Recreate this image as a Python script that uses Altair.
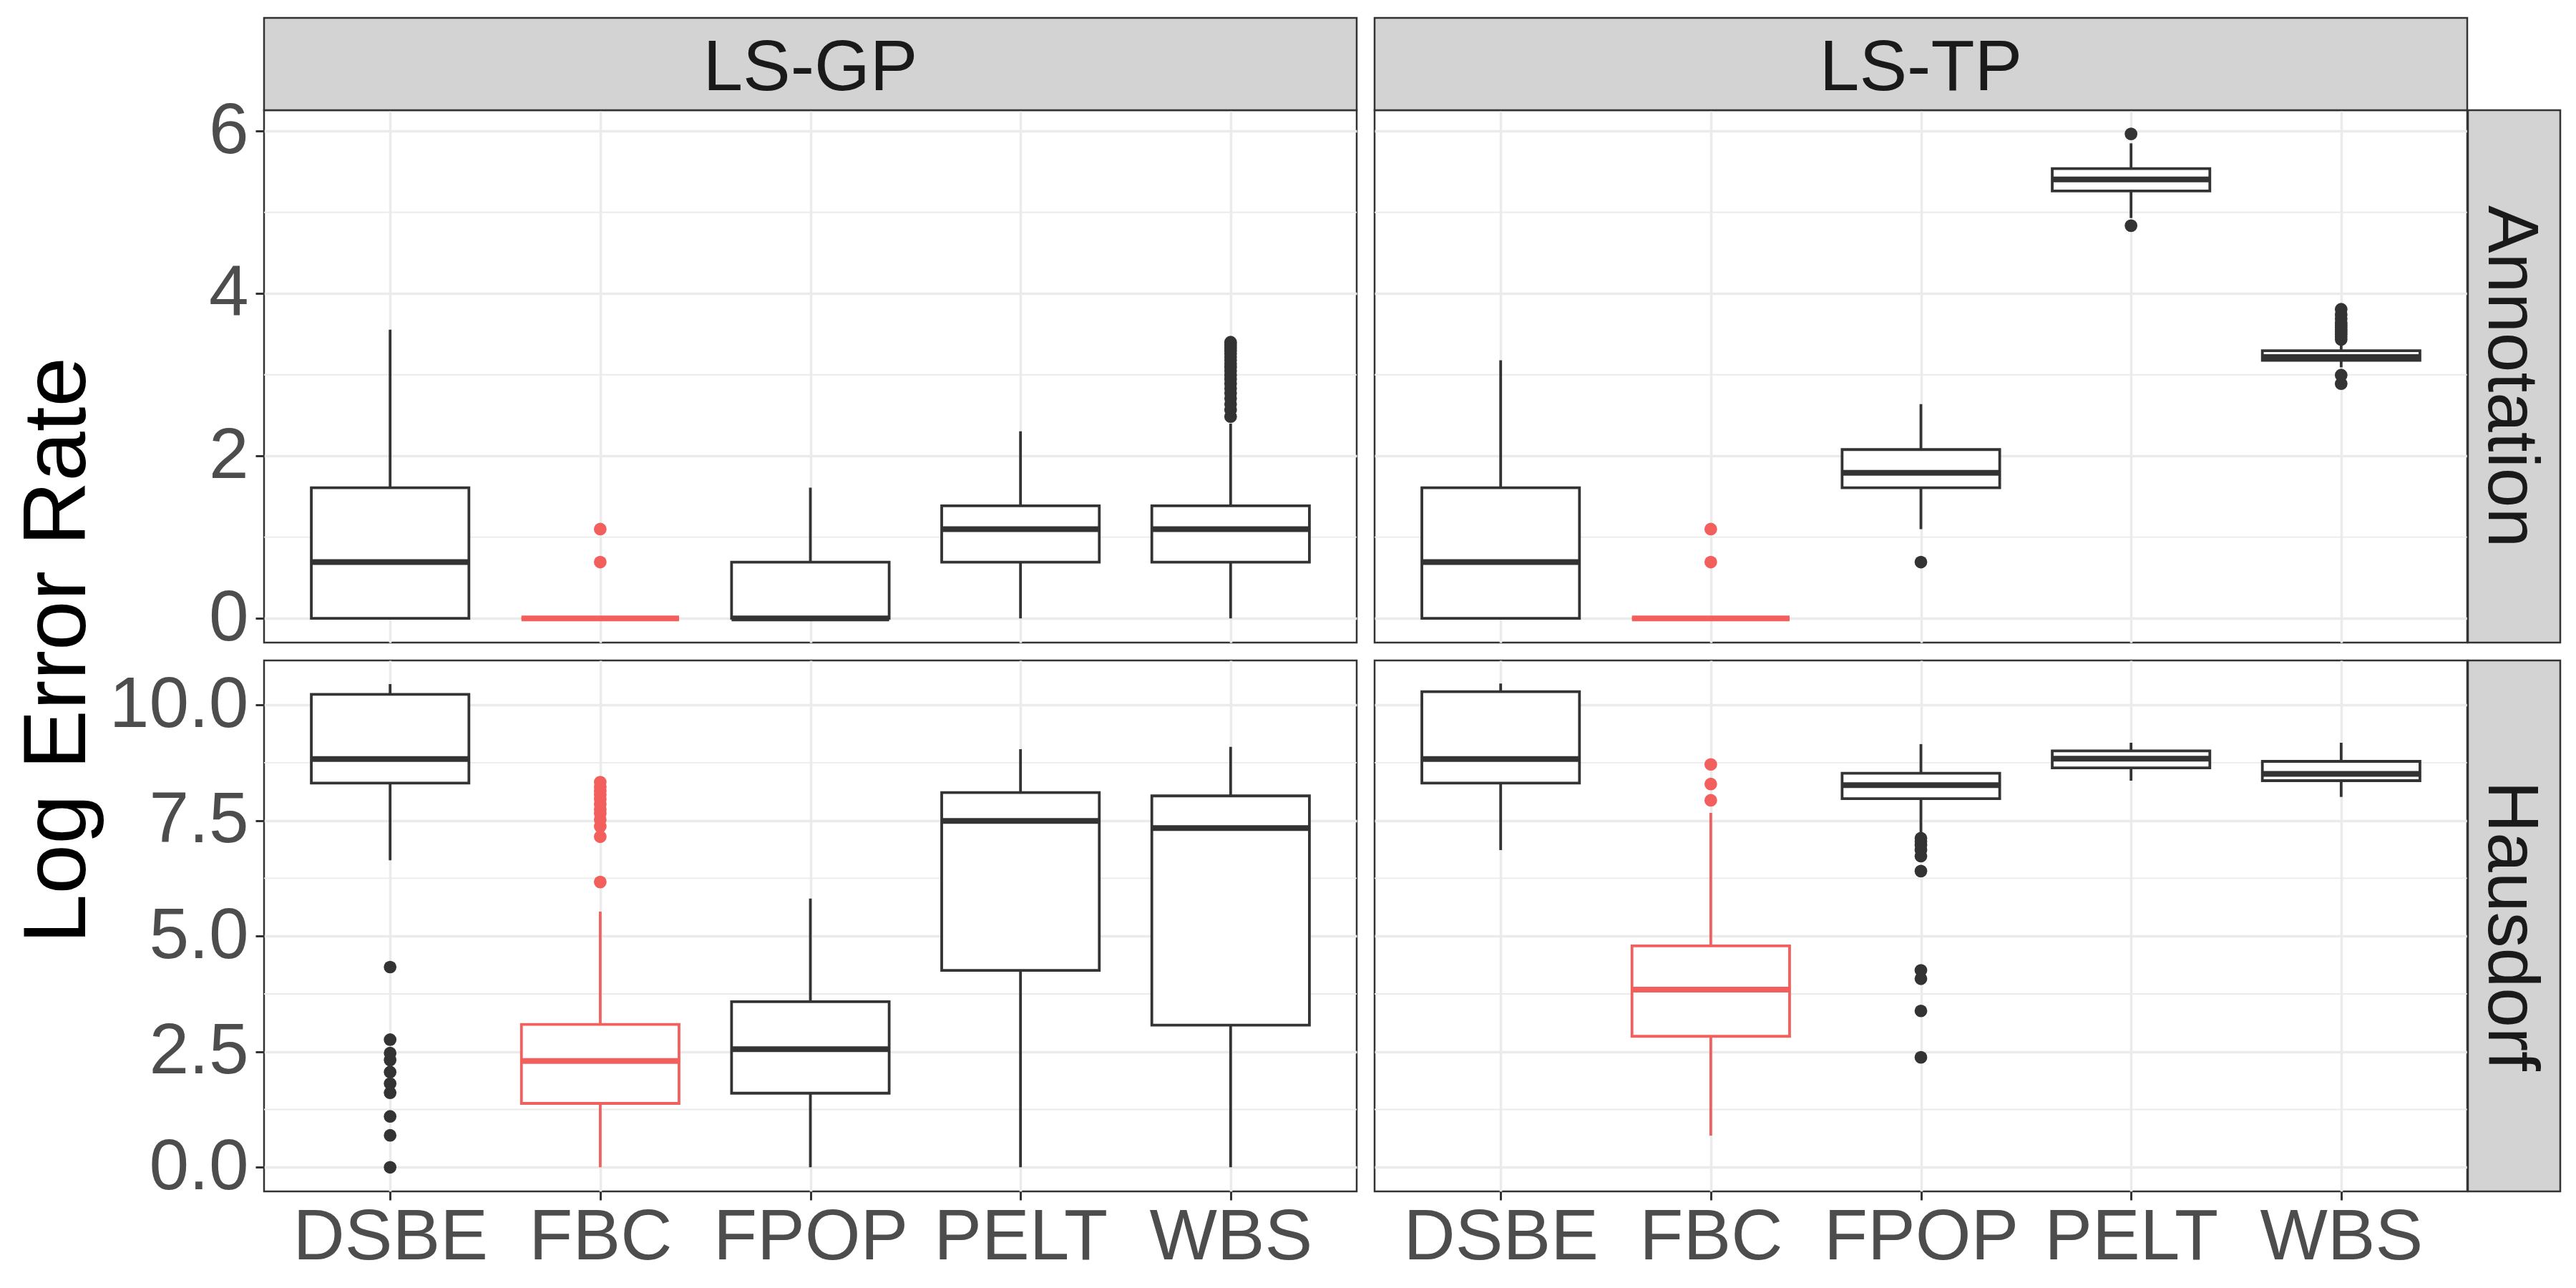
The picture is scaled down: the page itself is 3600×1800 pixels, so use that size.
import altair as alt
import pandas as pd

METHODS = ["DSBE", "FBC", "FPOP", "PELT", "WBS"]
COLORS = ["#333333", "#F25F5C", "#333333", "#333333", "#333333"]
DATASETS = ["LS-GP", "LS-TP"]
MEASURES = ["Annotation", "Hausdorf"]

# ---- Annotation, LS-GP ----
ANN_GP_LOW = [0.0, 0.0, 0.0, 0.0, 0.0]
ANN_GP_Q1 = [0.0, 0.0, 0.0, 0.693, 0.693]
ANN_GP_MED = [0.693, 0.0, 0.0, 1.099, 1.099]
ANN_GP_Q3 = [1.609, 0.0, 0.693, 1.386, 1.386]
ANN_GP_HIGH = [3.555, 0.0, 1.609, 2.303, 2.398]
ANN_GP_OUT = [[], [0.693, 1.099], [], [],
              [2.485, 2.565, 2.639, 2.708, 2.773, 2.833, 2.890, 2.944, 2.996, 3.045,
               3.091, 3.135, 3.178, 3.219, 3.258, 3.296, 3.332, 3.367, 3.401]]

# ---- Annotation, LS-TP ----
ANN_TP_LOW = [0.0, 0.0, 1.099, 4.93, 3.091]
ANN_TP_Q1 = [0.0, 0.0, 1.609, 5.263, 3.178]
ANN_TP_MED = [0.693, 0.0, 1.792, 5.405, 3.219]
ANN_TP_Q3 = [1.609, 0.0, 2.079, 5.539, 3.296]
ANN_TP_HIGH = [3.178, 0.0, 2.639, 5.85, 3.401]
ANN_TP_OUT = [[], [0.693, 1.099], [0.693], [4.836, 5.966],
              [2.890, 2.996, 3.434, 3.466, 3.497, 3.526, 3.555, 3.584, 3.611, 3.638,
               3.689, 3.738, 3.807]]

# ---- Hausdorf, LS-GP ----
HAU_GP_LOW = [6.64, 0.0, 0.0, 0.0, 0.0]
HAU_GP_Q1 = [8.31, 1.382, 1.602, 4.26, 3.074]
HAU_GP_MED = [8.83, 2.298, 2.554, 7.49, 7.337]
HAU_GP_Q3 = [10.23, 3.089, 3.58, 8.106, 8.033]
HAU_GP_HIGH = [10.45, 5.528, 5.813, 9.043, 9.094]
HAU_GP_OUT = [[0.0, 0.69, 1.10, 1.61, 1.81, 2.06, 2.32, 2.47, 2.76, 4.33],
              [6.17, 7.15, 7.37, 7.52, 7.65, 7.74, 7.85, 7.96, 8.06, 8.14, 8.23, 8.33],
              [], [], []]

# ---- Hausdorf, LS-TP ----
HAU_TP_LOW = [6.86, 0.686, 7.227, 8.362, 8.01]
HAU_TP_Q1 = [8.31, 2.833, 7.974, 8.64, 8.362]
HAU_TP_MED = [8.83, 3.843, 8.267, 8.838, 8.508]
HAU_TP_Q3 = [10.288, 4.788, 8.523, 9.007, 8.78]
HAU_TP_HIGH = [10.464, 7.666, 9.153, 9.182, 9.182]
HAU_TP_OUT = [[], [7.937, 8.289, 8.714],
              [2.378, 3.382, 4.077, 4.26, 6.406, 6.73, 6.86, 6.97, 7.05, 7.117],
              [], []]

TOP_DOMAIN = [-0.298, 6.258]
TOP_TICKS = [0, 2, 4, 6]
TOP_MINOR = [1, 3, 5]
BOT_DOMAIN = [-0.522, 10.962]
BOT_TICKS = [0, 2.5, 5, 7.5, 10]
BOT_MINOR = [1.25, 3.75, 6.25, 8.75]

W = 1527
H_TOP = 744
H_BOT = 742
STRIP = 129
BOX_W = 0.75 * W / 5.2
FONT = "Liberation Sans"
DARK = "#333333"
GRID = "#EBEBEB"
LABEL = "#4D4D4D"
STRIP_FILL = "#D3D3D3"
LW = 3.8


def panel(low, q1, med, q3, high, outs, height, domain, ticks, minor, fmt,
          top_label=None, right_label=None, left=False, bottom=False, ytitle=False):
    boxes = pd.DataFrame({"method": METHODS, "low": low, "q1": q1, "med": med,
                          "q3": q3, "high": high, "col": COLORS})
    orows = []
    for m, c, vals in zip(METHODS, COLORS, outs):
        for v in vals:
            orows.append({"method": m, "value": v, "col": c})
    outdf = pd.DataFrame(orows)

    xscale = alt.Scale(type="point", domain=METHODS, padding=0.6)
    xaxis = alt.Axis(labels=bottom, ticks=bottom, grid=True, title=None, domain=False,
                     labelPadding=3, labelAngle=0, labelOverlap=False, tickSize=12,
                     tickWidth=3, tickColor=DARK, gridColor=GRID, gridWidth=3.5,
                     labelFont=FONT, labelFontSize=100, labelColor=LABEL, labelLimit=1000)
    yscale = alt.Scale(domain=domain, nice=False, zero=False)
    yaxis = alt.Axis(values=ticks, format=fmt, labels=left, ticks=left, grid=True,
                     title=None, domain=False, labelPadding=10, tickSize=12,
                     tickWidth=3, tickColor=DARK, gridColor=GRID, gridWidth=3.5,
                     labelFont=FONT, labelFontSize=100, labelColor=LABEL,
                     labelOverlap=False, labelLimit=1000)

    def X():
        return alt.X("method:N", scale=xscale, axis=xaxis, title=None)

    def Y(f):
        return alt.Y(f, scale=yscale, axis=yaxis, title=None)

    minor_df = pd.DataFrame({"v": minor})
    layers = [
        alt.Chart(minor_df).mark_rule(color=GRID, strokeWidth=1.8).encode(y=Y("v:Q")),
        alt.Chart(boxes).mark_rule(strokeWidth=LW).encode(
            x=X(), y=Y("low:Q"), y2="high:Q", color=alt.Color("col:N", scale=None)),
        alt.Chart(boxes).mark_bar(size=BOX_W, fill="white", strokeWidth=LW, opacity=1).encode(
            x=X(), y=Y("q1:Q"), y2="q3:Q", stroke=alt.Stroke("col:N", scale=None)),
        alt.Chart(boxes).mark_tick(size=BOX_W, thickness=8, opacity=1).encode(
            x=X(), y=Y("med:Q"), color=alt.Color("col:N", scale=None)),
    ]
    if len(outdf):
        layers.append(alt.Chart(outdf).mark_circle(size=314, opacity=1).encode(
            x=X(), y=Y("value:Q"), color=alt.Color("col:N", scale=None)))

    if top_label is not None:
        d = pd.DataFrame({"label": [top_label]})
        layers.append(alt.Chart(d).mark_rect(fill=STRIP_FILL, stroke=DARK, strokeWidth=2.5).encode(
            x=alt.value(0), x2=alt.value(W), y=alt.value(-STRIP), y2=alt.value(0)))
        layers.append(alt.Chart(d).mark_text(font=FONT, fontSize=100, color="#1A1A1A",
                                             baseline="alphabetic", align="center").encode(
            x=alt.value(W / 2), y=alt.value(-STRIP / 2 + 36), text="label:N"))
    if right_label is not None:
        d = pd.DataFrame({"label": [right_label]})
        layers.append(alt.Chart(d).mark_rect(fill=STRIP_FILL, stroke=DARK, strokeWidth=2.5).encode(
            x=alt.value(W + 1), x2=alt.value(W + 1 + STRIP), y=alt.value(0), y2=alt.value(height)))
        layers.append(alt.Chart(d).mark_text(font=FONT, fontSize=100, color="#1A1A1A", angle=90,
                                             baseline="alphabetic", align="center").encode(
            x=alt.value(W + 1 + STRIP / 2 - 36), y=alt.value(height / 2), text="label:N"))
    if ytitle:
        d = pd.DataFrame({"label": ["Log Error Rate"]})
        layers.append(alt.Chart(d).mark_text(font=FONT, fontSize=125, color="#000000", angle=270,
                                             baseline="alphabetic", align="center").encode(
            x=alt.value(-250), y=alt.value(755), text="label:N"))

    return alt.layer(*layers).properties(width=W, height=height)


tl = panel(ANN_GP_LOW, ANN_GP_Q1, ANN_GP_MED, ANN_GP_Q3, ANN_GP_HIGH, ANN_GP_OUT, H_TOP,
           TOP_DOMAIN, TOP_TICKS, TOP_MINOR, ".0f", top_label=DATASETS[0], left=True, ytitle=True)
tr = panel(ANN_TP_LOW, ANN_TP_Q1, ANN_TP_MED, ANN_TP_Q3, ANN_TP_HIGH, ANN_TP_OUT, H_TOP,
           TOP_DOMAIN, TOP_TICKS, TOP_MINOR, ".0f", top_label=DATASETS[1], right_label=MEASURES[0])
bl = panel(HAU_GP_LOW, HAU_GP_Q1, HAU_GP_MED, HAU_GP_Q3, HAU_GP_HIGH, HAU_GP_OUT, H_BOT,
           BOT_DOMAIN, BOT_TICKS, BOT_MINOR, ".1f", left=True, bottom=True)
br = panel(HAU_TP_LOW, HAU_TP_Q1, HAU_TP_MED, HAU_TP_Q3, HAU_TP_HIGH, HAU_TP_OUT, H_BOT,
           BOT_DOMAIN, BOT_TICKS, BOT_MINOR, ".1f", right_label=MEASURES[1], bottom=True)

chart = alt.concat(tl, tr, bl, br, columns=2, spacing=25, bounds="flush").properties(
    padding={"left": 9, "top": 14, "right": 5, "bottom": 5},
    background="white",
).configure_view(
    stroke=DARK, strokeWidth=2.5
)

chart.save("out.html", embed_options={"renderer": "svg", "actions": False})
